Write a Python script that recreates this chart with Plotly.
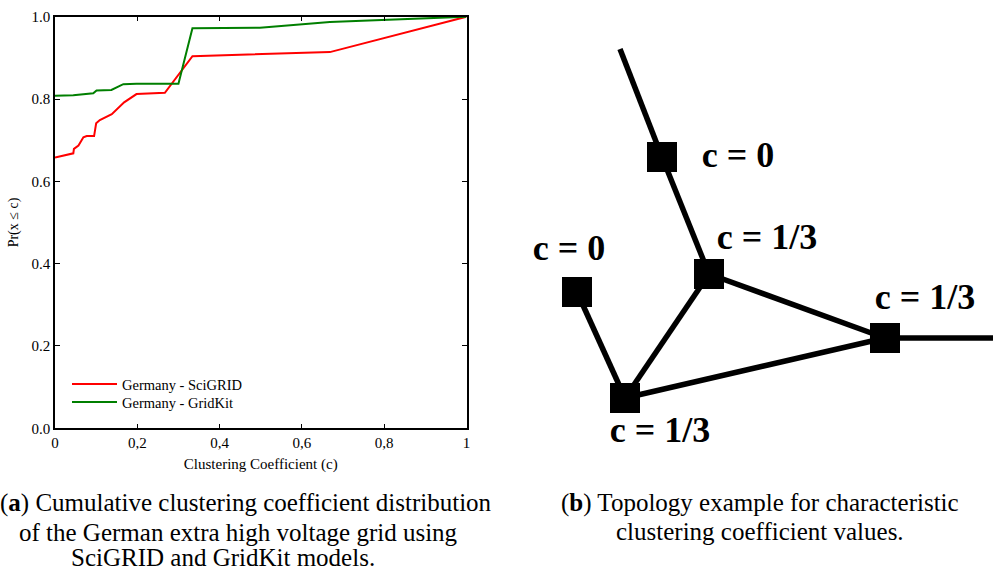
import plotly.graph_objects as go

# ---- Data: cumulative clustering coefficient distribution ----
sci_x = [0.0, 0.0445, 0.046, 0.057, 0.069, 0.077, 0.095, 0.100, 0.109, 0.138, 0.168, 0.198, 0.267, 0.334, 0.668, 1.0]
sci_y = [0.658, 0.668, 0.679, 0.687, 0.707, 0.710, 0.710, 0.741, 0.749, 0.763, 0.792, 0.812, 0.815, 0.904, 0.914, 1.0]
grid_x = [0.0, 0.0445, 0.093, 0.101, 0.137, 0.166, 0.198, 0.300, 0.334, 0.498, 0.668, 0.798, 1.0]
grid_y = [0.808, 0.809, 0.814, 0.821, 0.822, 0.836, 0.837, 0.837, 0.972, 0.973, 0.987, 0.992, 1.0]

x_tickvals = [0, 0.2, 0.4, 0.6, 0.8, 1.0]
x_ticktext = ["0", "0,2", "0,4", "0,6", "0,8", "1"]
y_tickvals = [0, 0.2, 0.4, 0.6, 0.8, 1.0]
y_ticktext = ["0.0", "0.2", "0.4", "0.6", "0.8", "1.0"]

# ---- Data: topology example (diagram units) ----
node_names = ["top", "A", "B", "C", "D", "E", "right"]
node_x = [620, 662, 709, 577, 625, 885, 993]
node_y = [49, 157, 274, 292, 398, 338, 338]
node_shown = [False, True, True, True, True, True, False]
edges = [("top", "A"), ("A", "B"), ("B", "D"), ("C", "D"), ("B", "E"), ("D", "E"), ("E", "right")]
label_text = ["c = 0", "c = 1/3", "c = 0", "c = 1/3", "c = 1/3"]
label_x = [738, 767, 569, 660, 925]
label_y = [158, 240, 251, 433, 300]

W, H = 993, 572
fig = go.Figure()

fig.add_trace(go.Scatter(x=sci_x, y=sci_y, mode="lines", name="Germany - SciGRID",
                         line=dict(color="#ff0000", width=2), xaxis="x", yaxis="y",
                         legend="legend"))
fig.add_trace(go.Scatter(x=grid_x, y=grid_y, mode="lines", name="Germany - GridKit",
                         line=dict(color="#007f00", width=2), xaxis="x", yaxis="y",
                         legend="legend2"))

idx = {n: i for i, n in enumerate(node_names)}
ex, ey = [], []
for a, b in edges:
    ex += [node_x[idx[a]], node_x[idx[b]], None]
    ey += [node_y[idx[a]], node_y[idx[b]], None]
fig.add_trace(go.Scatter(x=ex, y=ey, mode="lines", line=dict(color="black", width=5.5),
                         showlegend=False, xaxis="x2", yaxis="y2", hoverinfo="skip"))
sx = [x for x, s in zip(node_x, node_shown) if s]
sy = [y for y, s in zip(node_y, node_shown) if s]
fig.add_trace(go.Scatter(x=sx, y=sy, mode="markers",
                         marker=dict(symbol="square", size=30, color="black", line=dict(width=0)),
                         showlegend=False, xaxis="x2", yaxis="y2"))
fig.add_trace(go.Scatter(x=label_x, y=label_y, mode="text", text=label_text,
                         textfont=dict(family="Liberation Serif", size=36, color="black"),
                         texttemplate="<b>%{text}</b>",
                         showlegend=False, xaxis="x2", yaxis="y2"))

serif = "Liberation Serif"
x0, x1 = 55 / W, 466.5 / W
y0, y1 = 1 - 428.3 / H, 1 - 16.7 / H
d2x0 = 516 / W

leg_common = dict(xanchor="left", yanchor="top", bgcolor="rgba(0,0,0,0)",
                  font=dict(family=serif, size=14.5), itemwidth=45)

fig.update_layout(
    width=W, height=H,
    margin=dict(l=0, r=0, t=0, b=0, autoexpand=False),
    paper_bgcolor="white", plot_bgcolor="rgba(0,0,0,0)",
    font=dict(family=serif, size=14, color="black"),
    xaxis=dict(domain=[x0, x1], range=[0, 1], tickvals=x_tickvals, ticktext=x_ticktext,
               ticks="inside", ticklen=5, tickwidth=1.2, tickcolor="black",
               tickfont=dict(size=15),
               showline=True, linecolor="black", linewidth=1.5, mirror="ticks",
               showgrid=False, zeroline=False, anchor="y", automargin=False,
               title=dict(text="Clustering Coefficient (c)", standoff=8, font=dict(size=15))),
    yaxis=dict(domain=[y0, y1], range=[0, 1], tickvals=y_tickvals, ticktext=y_ticktext,
               ticks="inside", ticklen=5, tickwidth=1.2, tickcolor="black",
               tickfont=dict(size=15),
               showline=True, linecolor="black", linewidth=1.5, mirror="ticks",
               showgrid=False, zeroline=False, anchor="x", automargin=False,
               title=dict(text="Pr(x ≤ c)", standoff=10, font=dict(size=14))),
    xaxis2=dict(domain=[d2x0, 1], range=[516, 993], visible=False, anchor="y2"),
    yaxis2=dict(domain=[0, 1], range=[572, 0], visible=False, anchor="x2"),
    legend=dict(x=67 / W, y=1 - 368 / H, **leg_common),
    legend2=dict(x=67 / W, y=1 - 386 / H, **leg_common),
    showlegend=True,
)

cap_font = dict(family=serif, size=25, color="black")
caps = [
    ("(<b>a</b>) Cumulative clustering coefficient distribution", 494, 503, "right"),
    ("of the German extra high voltage grid using", 238, 532, "center"),
    ("SciGRID and GridKit models.", 223, 557, "center"),
    ("(<b>b</b>) Topology example for characteristic", 760, 503, "center"),
    ("clustering coefficient values.", 760, 531, "center"),
]
for t, cx, cy, anc in caps:
    fig.add_annotation(text=t, x=cx / W, y=1 - cy / H, xref="paper", yref="paper",
                       xanchor=anc, yanchor="middle", showarrow=False, font=cap_font)

fig.write_html("out.html", post_script="document.body.style.margin='0px';",
               config={"displayModeBar": False})
